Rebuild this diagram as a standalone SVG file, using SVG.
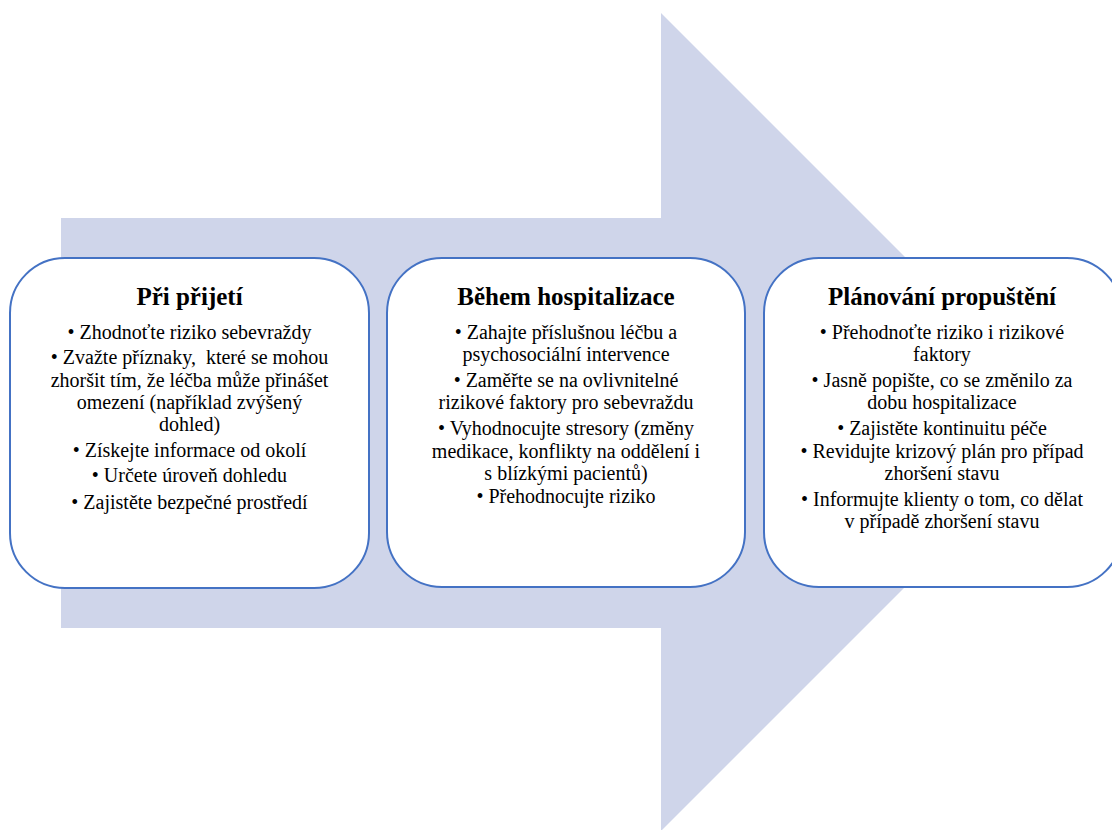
<svg xmlns="http://www.w3.org/2000/svg" width="1112" height="830" viewBox="0 0 1112 830">
<style>
.arrow{fill:#CFD5EA}
.box{fill:#ffffff;stroke:#4472C4;stroke-width:2}
.t{font-size:25px;font-weight:bold;fill:#000;text-anchor:middle}
.b{font-size:20px;fill:#000;text-anchor:middle;white-space:pre}
</style>
<rect x="0" y="0" width="1112" height="830" fill="#ffffff"/>
<g id="arrow">
<polygon class="arrow" points="61,218 661,218 661,13 1070,422 661,831 661,628 61,628"/>
</g>
<g id="connectors"></g>
<g font-family="'Liberation Serif', 'Times New Roman', 'DejaVu Serif', serif">
<g id="node-prijeti">
<rect class="box" x="10" y="258" width="359" height="330" rx="55" ry="55"/>
<text class="t" x="189.5" y="305">Při přijetí</text>
<text class="b" x="189.5" y="339">• Zhodnoťte riziko sebevraždy</text>
<text class="b" x="189.5" y="364">• Zvažte příznaky,  které se mohou</text>
<text class="b" x="189.5" y="387">zhoršit tím, že léčba může přinášet</text>
<text class="b" x="189.5" y="409">omezení (například zvýšený</text>
<text class="b" x="189.5" y="431">dohled)</text>
<text class="b" x="189.5" y="457">• Získejte informace od okolí</text>
<text class="b" x="189.5" y="482">• Určete úroveň dohledu</text>
<text class="b" x="189.5" y="509">• Zajistěte bezpečné prostředí</text>
</g>
<g id="node-hospitalizace">
<rect class="box" x="387" y="258" width="358" height="329" rx="55" ry="55"/>
<text class="t" x="566" y="305">Během hospitalizace</text>
<text class="b" x="566" y="339">• Zahajte příslušnou léčbu a</text>
<text class="b" x="566" y="361">psychosociální intervence</text>
<text class="b" x="566" y="387">• Zaměřte se na ovlivnitelné</text>
<text class="b" x="566" y="409">rizikové faktory pro sebevraždu</text>
<text class="b" x="566" y="435">• Vyhodnocujte stresory (změny</text>
<text class="b" x="566" y="458">medikace, konflikty na oddělení i</text>
<text class="b" x="566" y="480">s blízkými pacientů)</text>
<text class="b" x="566" y="503">• Přehodnocujte riziko</text>
</g>
<g id="node-propusteni">
<rect class="box" x="764" y="258" width="358" height="329" rx="55" ry="55"/>
<text class="t" x="942" y="305">Plánování propuštění</text>
<text class="b" x="942" y="339">• Přehodnoťte riziko i rizikové</text>
<text class="b" x="942" y="361">faktory</text>
<text class="b" x="942" y="387">• Jasně popište, co se změnilo za</text>
<text class="b" x="942" y="409">dobu hospitalizace</text>
<text class="b" x="942" y="435">• Zajistěte kontinuitu péče</text>
<text class="b" x="942" y="458">• Revidujte krizový plán pro případ</text>
<text class="b" x="942" y="480">zhoršení stavu</text>
<text class="b" x="942" y="506">• Informujte klienty o tom, co dělat</text>
<text class="b" x="942" y="528">v případě zhoršení stavu</text>
</g>
</g>
</svg>
